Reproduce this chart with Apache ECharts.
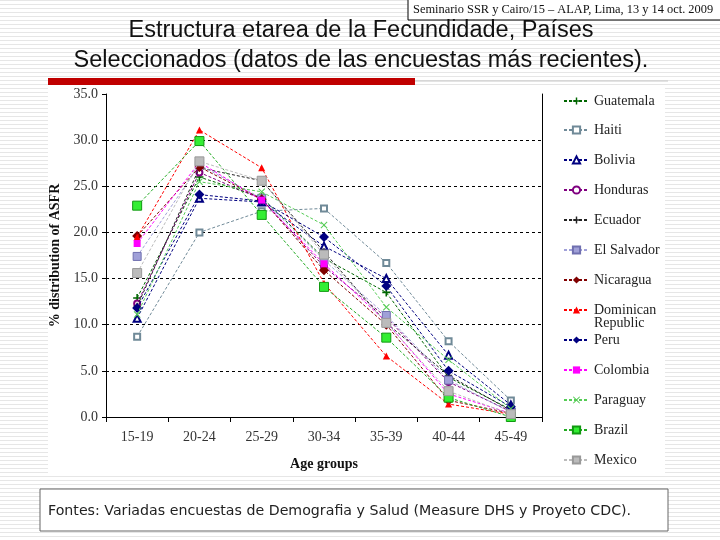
<!DOCTYPE html>
<html>
<head>
<meta charset="utf-8">
<script src="https://cdn.jsdelivr.net/npm/echarts@6/dist/echarts.min.js"></script>
<style>
html,body{margin:0;padding:0;}
#wrap{width:720px;height:540px;background:repeating-linear-gradient(to bottom,#e6e6e6 0px,#e6e6e6 1px,#ffffff 1px,#ffffff 4px);}
#chart{width:720px;height:540px;}
</style>
</head>
<body>
<div id="wrap"><div id="chart"></div></div>
<script>
const categories = ['15-19','20-24','25-29','30-34','35-39','40-44','45-49'];
const yTicks = [5, 10, 15, 20, 25, 30];

const guatemala = [12.9, 26.0, 23.8, 17.2, 13.5, 4.3, 0.8];
const haiti     = [8.7, 20.0, 22.3, 22.6, 16.7, 8.2, 1.8];
const bolivia   = [10.7, 23.7, 23.3, 18.5, 15.0, 6.7, 1.3];
const honduras  = [12.3, 26.5, 23.6, 16.3, 10.8, 3.8, 0.6];
const ecuador   = [12.0, 27.0, 25.6, 17.9, 10.2, 4.5, 0.7];
const elSalvador= [17.4, 27.3, 23.7, 17.0, 11.0, 4.0, 0.5];
const nicaragua = [19.6, 27.1, 23.6, 15.9, 10.0, 1.8, 0.4];
const dominican = [19.5, 31.1, 27.0, 14.5, 6.6, 1.4, 0.3];
const peru      = [11.8, 24.1, 23.4, 19.5, 14.2, 5.0, 1.1];
const colombia  = [18.8, 27.6, 23.5, 16.6, 10.3, 2.5, 0.4];
const paraguay  = [11.1, 25.5, 24.4, 20.8, 11.9, 6.2, 0.9];
const brazil    = [22.9, 29.9, 21.9, 14.1, 8.6, 2.1, 0.0];
const mexico    = [15.6, 27.7, 25.6, 17.6, 10.2, 2.8, 0.3];

const PLUS = 'path://M4,0H6V4H10V6H6V10H4V6H0V4H4Z';
const XSYM = 'path://M0,1L1,0L5,4L9,0L10,1L6,5L10,9L9,10L5,6L1,10L0,9L4,5Z';

const seriesDefs = [
  {name:'Guatemala', data:guatemala, color:'#006600', symbol:PLUS, size:8},
  {name:'Haiti', data:haiti, color:'#708a98', symbol:'emptyRect', size:6},
  {name:'Bolivia', data:bolivia, color:'#000080', symbol:'emptyTriangle', size:7},
  {name:'Honduras', data:honduras, color:'#800080', symbol:'emptyCircle', size:6},
  {name:'Ecuador', data:ecuador, color:'#222222', symbol:PLUS, size:7},
  {name:'El Salvador', data:elSalvador, color:'#a0a0d8', symbol:'rect', size:8, border:'#7070b0'},
  {name:'Nicaragua', data:nicaragua, color:'#800000', symbol:'diamond', size:10},
  {name:'Dominican Republic', data:dominican, color:'#ff0000', symbol:'triangle', size:7},
  {name:'Peru', data:peru, color:'#000080', symbol:'diamond', size:10},
  {name:'Colombia', data:colombia, color:'#ff00ff', symbol:'rect', size:7},
  {name:'Paraguay', data:paraguay, color:'#55cc55', symbol:XSYM, size:7},
  {name:'Brazil', data:brazil, color:'#33ee33', symbol:'rect', size:9, border:'#119911', line:'#22aa22'},
  {name:'Mexico', data:mexico, color:'#bbbbbb', symbol:'rect', size:9, border:'#999999'}
];

const legendY = [100,129,159,189,219,249,279,309,339,369,399,429,459];

const series = seriesDefs.map((d,i) => {
  const s = {
    name: d.name, type: 'line', data: d.data,
    symbol: d.symbol, symbolSize: d.size,
    lineStyle: {color: d.line || d.color, width: 1, type: [3,2]},
    itemStyle: {color: d.color, borderColor: d.border || d.color, borderWidth: d.border ? 1 : (d.symbol.startsWith('empty') ? 1 : 0)},
    z: 3 + i
  };
  if (i === 0) {
    s.markLine = {
      silent: true, symbol: 'none', label: {show: false},
      lineStyle: {color: '#000', type: [3,3], width: 1},
      data: yTicks.map(v => ({yAxis: v})),
      z: 1
    };
  }
  return s;
});

const legends = seriesDefs.map((d,i) => ({
  data: [d.name],
  orient: 'vertical',
  left: 558,
  top: legendY[i] - 11,
  itemWidth: 25, itemHeight: 9, itemGap: 5,
  formatter: n => n === 'Dominican Republic' ? 'Dominican' : n,
  textStyle: {fontFamily: 'Liberation Serif', fontSize: 14, color: '#222'}
}));

const chart = echarts.init(document.getElementById('chart'));
chart.setOption({
  animation: false,
  backgroundColor: 'transparent',
  grid: {left: 106, top: 94, right: 178, bottom: 123, containLabel: false},
  xAxis: {
    type: 'category', data: categories, boundaryGap: true,
    name: 'Age groups', nameLocation: 'middle', nameGap: 40,
    nameTextStyle: {fontFamily: 'Liberation Serif', fontWeight: 'bold', fontSize: 14, color: '#111'},
    axisLine: {lineStyle: {color: '#000', width: 1}},
    axisTick: {show: true, length: 5, lineStyle: {color: '#000'}},
    axisLabel: {fontFamily: 'Liberation Serif', fontSize: 14, color: '#333', margin: 13}
  },
  yAxis: [{
    type: 'value', min: 0, max: 35, interval: 5,
    name: '% distribution of ASFR', nameLocation: 'middle', nameGap: 44,
    nameTextStyle: {fontFamily: 'Liberation Serif', fontWeight: 'bold', fontSize: 14, color: '#111'},
    axisLine: {show: true, lineStyle: {color: '#000', width: 1}},
    axisTick: {show: true, length: 4, lineStyle: {color: '#000'}},
    axisLabel: {fontFamily: 'Liberation Serif', fontSize: 14, color: '#333', margin: 8, formatter: v => v.toFixed(1)},
    splitLine: {show: false}
  }, {
    type: 'value', min: 0, max: 35, interval: 5, position: 'right',
    axisLine: {show: true, lineStyle: {color: '#000', width: 1}},
    axisTick: {show: false}, axisLabel: {show: false}, splitLine: {show: false}
  }],
  legend: legends,
  graphic: [
    {type: 'rect', shape: {x: 48, y: 86, width: 617, height: 390}, style: {fill: '#ffffff'}, z: -10},
    {type: 'rect', shape: {x: 408, y: -1, width: 313, height: 21}, style: {fill: '#ffffff', stroke: '#000', lineWidth: 1}, z: -5},
    {type: 'text', x: 413, y: 10, style: {text: 'Seminario SSR y Cairo/15 \u2013 ALAP, Lima, 13 y 14 oct. 2009', font: '12.4px "Liberation Serif"', fill: '#111', verticalAlign: 'middle'}},
    {type: 'text', x: 361, y: 31, style: {text: 'Estructura etarea de la Fecundidade, Pa\u00edses', font: '23.5px "Liberation Sans"', fill: '#111', align: 'center', verticalAlign: 'middle'}},
    {type: 'text', x: 361, y: 61, style: {text: 'Seleccionados (datos de las encuestas m\u00e1s recientes).', font: '23.5px "Liberation Sans"', fill: '#111', align: 'center', verticalAlign: 'middle'}},
    {type: 'line', shape: {x1: 415, y1: 81, x2: 668, y2: 81}, style: {stroke: '#c8c8c8', lineWidth: 1}, z: -4},
    {type: 'rect', shape: {x: 48, y: 78, width: 367, height: 7}, style: {fill: '#c00000'}, z: -4},
    {type: 'text', x: 594, y: 323, style: {text: 'Republic', font: '14px "Liberation Serif"', fill: '#222', verticalAlign: 'middle'}},
    {type: 'rect', shape: {x: 40, y: 489, width: 628, height: 42}, style: {fill: '#ffffff', stroke: '#666', lineWidth: 1}, z: -5},
    {type: 'text', x: 48, y: 511, style: {text: 'Fontes: Variadas encuestas de Demografia y Salud (Measure DHS y Proyeto CDC).', font: '14.2px "DejaVu Sans"', fill: '#222', verticalAlign: 'middle'}}
  ],
  series: series
});
</script>
</body>
</html>
